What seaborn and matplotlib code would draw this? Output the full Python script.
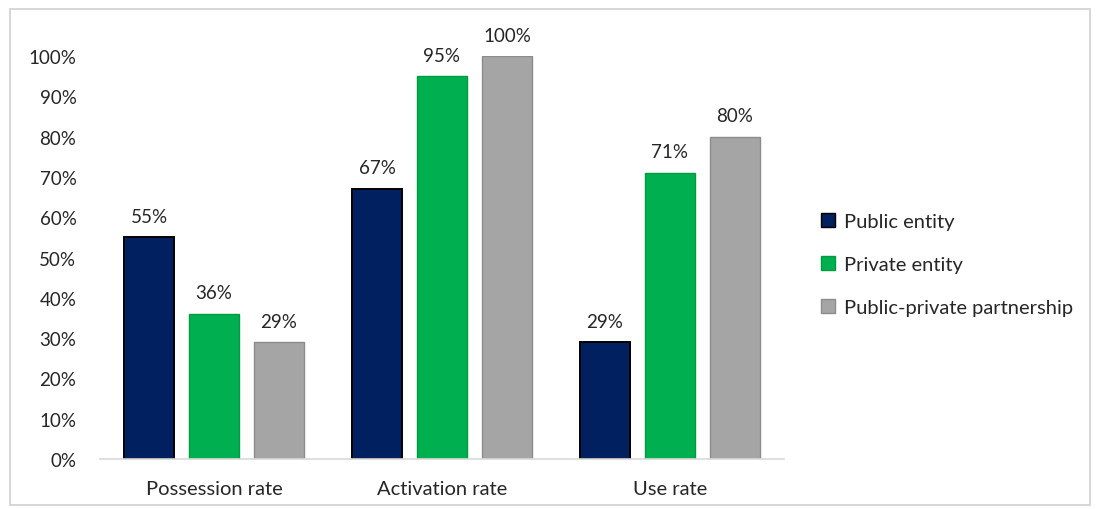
import matplotlib
matplotlib.use("Agg")
import matplotlib.pyplot as plt
import seaborn as sns
import pandas as pd
from matplotlib.patches import Rectangle

categories = ["Possession rate", "Activation rate", "Use rate"]
series_names = ["Public entity", "Private entity", "Public-private partnership"]
public_entity = [55, 67, 29]
private_entity = [36, 95, 71]
public_private = [29, 100, 80]
y_ticks = [0, 10, 20, 30, 40, 50, 60, 70, 80, 90, 100]

colors = ["#002060", "#00B050", "#A5A5A5"]
edges = ["#000000", "#009A40", "#8C8C8C"]

rows = []
for name, vals in zip(series_names, [public_entity, private_entity, public_private]):
    for cat, v in zip(categories, vals):
        rows.append({"category": cat, "series": name, "value": v})
df = pd.DataFrame(rows)

sns.set_theme(style="white")
plt.rcParams["font.family"] = ["Lato", "DejaVu Sans"]

TEXT = "#262626"
fig = plt.figure(figsize=(10.97, 5.10), dpi=100)
ax = fig.add_axes([100 / 1097, 1 - 460 / 510, 684 / 1097, 403 / 510])

sns.barplot(data=df, x="category", y="value", hue="series", order=categories,
            hue_order=series_names, palette=colors, width=0.855, gap=0.24,
            saturation=1, ax=ax, legend=True)

# edge colours per series and value labels above each bar
for cont, ec, vals in zip(ax.containers, edges, [public_entity, private_entity, public_private]):
    for bar in cont:
        bar.set_edgecolor(ec)
        bar.set_linewidth(1.4 if ec == "#000000" else 1.0)
    ax.bar_label(cont, labels=[f"{v}%" for v in vals], padding=9, fontsize=13.5,
                 color=TEXT, clip_on=False)

ax.set_ylim(0, 100)
ax.set_xlim(-0.5, 2.5)
ax.set_yticks(y_ticks)
ax.set_yticklabels([f"{t}%" for t in y_ticks], fontsize=13.5, color=TEXT)
ax.tick_params(axis="x", labelsize=14.5, colors=TEXT, pad=15, length=0)
ax.tick_params(axis="y", pad=17, length=0)
for t in ax.get_xticklabels():
    t.set_color(TEXT)
ax.set_xlabel("")
ax.set_ylabel("")
for s in ["top", "right", "left"]:
    ax.spines[s].set_visible(False)
ax.spines["bottom"].set_color("#D9D9D9")
ax.spines["bottom"].set_linewidth(1.2)

leg = ax.legend(loc="center left", bbox_to_anchor=(1.028, 0.482), frameon=False,
                fontsize=14.5, handlelength=0.7, handleheight=0.7,
                handletextpad=0.45, labelspacing=1.28)
for txt in leg.get_texts():
    txt.set_color(TEXT)
for h, ec in zip(leg.legend_handles, edges):
    h.set_edgecolor(ec)

# thin outer frame around the chart area
fig.patches.append(Rectangle((10 / 1097, 4 / 510), 1080 / 1097, 496 / 510,
                             transform=fig.transFigure, fill=False,
                             edgecolor="#D0D0D0", linewidth=1.2))

fig.savefig("out.png", dpi=100)
